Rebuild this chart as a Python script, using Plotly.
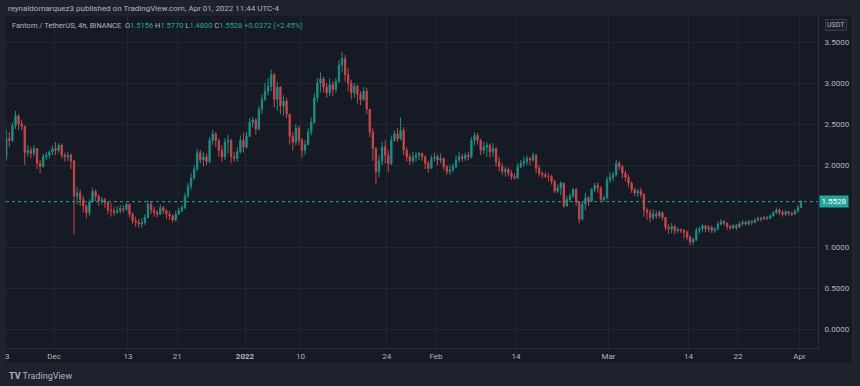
import plotly.graph_objects as go
import pandas as pd

# ---------------- data (12h aggregates) ----------------
start_time = "2021-11-23 06:00"
first_open = 2.10

close = [
    2.32, 2.30, 2.48, 2.60, 2.50, 2.47, 2.15, 2.18, 2.14, 2.20, 2.02, 1.98, 2.10, 2.12, 2.16, 2.20,   # Nov 23-30
    2.18, 2.24, 2.12, 2.10, 2.12, 2.05, 1.62, 1.66, 1.58, 1.50, 1.42, 1.55, 1.68, 1.62, 1.56, 1.58,   # Dec 1-8
    1.54, 1.45, 1.44, 1.42, 1.44, 1.47, 1.46, 1.52, 1.40, 1.32, 1.30, 1.28, 1.30, 1.36, 1.52, 1.45,   # Dec 9-16
    1.42, 1.40, 1.48, 1.44, 1.40, 1.38, 1.33, 1.40, 1.44, 1.48, 1.62, 1.74, 1.84, 1.95, 2.15, 2.06,   # Dec 17-24
    2.10, 2.04, 2.30, 2.38, 2.30, 2.18, 2.10, 2.28, 2.30, 2.10, 2.08, 2.16, 2.30, 2.22,               # Dec 25-31
    2.35, 2.52, 2.55, 2.44, 2.68, 2.80, 2.90, 2.96, 3.10, 2.80, 2.95, 2.72, 2.78, 2.62, 2.35, 2.28,   # Jan 1-8
    2.45, 2.30, 2.18, 2.25, 2.40, 2.52, 2.82, 3.00, 3.05, 2.95, 2.88, 2.98, 2.92, 3.02, 3.22, 3.30,   # Jan 9-16
    3.10, 3.00, 2.88, 2.96, 2.86, 2.80, 2.90, 2.68, 2.40, 2.20, 1.92, 2.05, 2.22, 2.12, 2.02, 2.30,   # Jan 17-24
    2.38, 2.32, 2.42, 2.18, 2.10, 2.05, 2.10, 2.12, 2.14, 2.10, 2.02, 1.96, 2.08, 2.10,               # Jan 25-31
    2.06, 2.08, 1.98, 1.92, 1.94, 1.98, 2.06, 2.10, 2.08, 2.12, 2.10, 2.30, 2.36, 2.30, 2.18, 2.22,   # Feb 1-8
    2.24, 2.16, 2.20, 2.04, 1.98, 1.92, 1.95, 1.90, 1.86, 1.84, 1.98, 2.02, 2.04, 2.08, 2.06, 2.12,   # Feb 9-16
    1.96, 1.90, 1.88, 1.86, 1.86, 1.80, 1.68, 1.72, 1.78, 1.50, 1.58, 1.62, 1.70, 1.55, 1.34, 1.52,   # Feb 17-24
    1.60, 1.56, 1.70, 1.75, 1.72, 1.58, 1.60, 1.82,                                                   # Feb 25-28
    1.85, 1.88, 2.02, 1.98, 1.90, 1.85, 1.78, 1.70, 1.66, 1.68, 1.64, 1.45, 1.42, 1.36, 1.40, 1.38,   # Mar 1-8
    1.42, 1.36, 1.24, 1.22, 1.25, 1.20, 1.21, 1.20, 1.18, 1.12, 1.06, 1.09, 1.20, 1.22, 1.26, 1.22,   # Mar 9-16
    1.24, 1.20, 1.22, 1.28, 1.31, 1.29, 1.25, 1.23, 1.26, 1.24, 1.28, 1.30, 1.28, 1.31, 1.30, 1.33,   # Mar 17-24
    1.35, 1.34, 1.36, 1.35, 1.38, 1.42, 1.45, 1.42, 1.40, 1.43, 1.41, 1.40, 1.44, 1.48,               # Mar 25-31
    1.5528,                                                                                           # Apr 1
]

high = [
    2.43, 2.40, 2.52, 2.66, 2.62, 2.55, 2.48, 2.24, 2.22, 2.24, 2.20, 2.06, 2.14, 2.16, 2.18, 2.24,
    2.28, 2.27, 2.26, 2.15, 2.16, 2.14, 2.06, 1.73, 1.70, 1.62, 1.52, 1.58, 1.72, 1.70, 1.64, 1.61,
    1.60, 1.56, 1.54, 1.49, 1.50, 1.51, 1.51, 1.54, 1.53, 1.42, 1.37, 1.34, 1.35, 1.40, 1.57, 1.55,
    1.49, 1.45, 1.52, 1.50, 1.46, 1.44, 1.40, 1.44, 1.48, 1.51, 1.66, 1.78, 1.90, 2.00, 2.20, 2.18,
    2.16, 2.14, 2.34, 2.43, 2.40, 2.32, 2.24, 2.33, 2.37, 2.32, 2.16, 2.22, 2.36, 2.39,
    2.40, 2.57, 2.59, 2.57, 2.72, 2.86, 3.00, 3.06, 3.16, 3.12, 3.01, 2.96, 2.85, 2.82, 2.62, 2.40,
    2.50, 2.48, 2.33, 2.30, 2.45, 2.58, 2.88, 3.06, 3.13, 3.08, 3.00, 3.06, 3.02, 3.06, 3.28, 3.38,
    3.34, 3.18, 3.04, 3.00, 2.98, 2.90, 2.95, 2.94, 2.68, 2.45, 2.22, 2.12, 2.28, 2.30, 2.18, 2.36,
    2.42, 2.45, 2.58, 2.46, 2.22, 2.14, 2.16, 2.16, 2.16, 2.15, 2.12, 2.05, 2.12, 2.15,
    2.13, 2.14, 2.09, 2.00, 2.00, 2.02, 2.12, 2.16, 2.14, 2.15, 2.16, 2.34, 2.40, 2.39, 2.32, 2.28,
    2.28, 2.26, 2.27, 2.22, 2.10, 2.02, 1.98, 1.97, 1.94, 1.90, 2.02, 2.06, 2.10, 2.12, 2.10, 2.15,
    2.13, 2.00, 1.92, 1.91, 1.90, 1.88, 1.82, 1.76, 1.80, 1.78, 1.62, 1.66, 1.72, 1.72, 1.56, 1.56,
    1.66, 1.62, 1.72, 1.78, 1.79, 1.74, 1.63, 1.86,
    1.91, 1.92, 2.06, 2.05, 2.00, 1.93, 1.88, 1.80, 1.72, 1.71, 1.72, 1.66, 1.48, 1.46, 1.46, 1.44,
    1.45, 1.43, 1.36, 1.28, 1.29, 1.27, 1.24, 1.23, 1.22, 1.20, 1.14, 1.12, 1.24, 1.25, 1.28, 1.27,
    1.27, 1.26, 1.24, 1.31, 1.34, 1.33, 1.30, 1.27, 1.28, 1.28, 1.31, 1.33, 1.32, 1.33, 1.33, 1.35,
    1.37, 1.37, 1.38, 1.38, 1.40, 1.44, 1.48, 1.47, 1.45, 1.45, 1.44, 1.43, 1.46, 1.51,
    1.5770,
]

low = [
    2.05, 2.22, 2.28, 2.44, 2.43, 2.42, 2.00, 2.10, 2.08, 2.10, 1.95, 1.90, 1.97, 2.06, 2.08, 2.12,
    2.12, 2.15, 2.08, 2.04, 2.05, 1.95, 1.15, 1.52, 1.50, 1.42, 1.35, 1.38, 1.54, 1.56, 1.50, 1.52,
    1.48, 1.40, 1.37, 1.38, 1.40, 1.41, 1.42, 1.44, 1.36, 1.28, 1.25, 1.24, 1.23, 1.27, 1.35, 1.40,
    1.37, 1.36, 1.39, 1.40, 1.34, 1.33, 1.30, 1.31, 1.39, 1.42, 1.46, 1.60, 1.70, 1.82, 1.92, 2.02,
    1.98, 2.00, 2.02, 2.24, 2.22, 2.10, 2.04, 2.06, 2.14, 2.02, 2.04, 2.04, 2.14, 2.15,
    2.20, 2.34, 2.46, 2.37, 2.42, 2.62, 2.78, 2.85, 2.90, 2.70, 2.66, 2.62, 2.60, 2.57, 2.25, 2.18,
    2.24, 2.24, 2.09, 2.12, 2.24, 2.36, 2.50, 2.77, 2.89, 2.88, 2.82, 2.84, 2.84, 2.88, 3.00, 3.13,
    3.02, 2.90, 2.80, 2.82, 2.75, 2.73, 2.78, 2.62, 2.34, 2.05, 1.77, 1.85, 2.00, 2.02, 1.91, 2.00,
    2.28, 2.28, 2.30, 2.12, 2.04, 2.00, 2.02, 2.04, 2.06, 2.05, 1.95, 1.91, 1.96, 2.04,
    2.00, 2.02, 1.94, 1.88, 1.88, 1.91, 1.96, 2.03, 2.04, 2.05, 2.06, 2.08, 2.24, 2.25, 2.12, 2.13,
    2.10, 2.09, 2.10, 1.98, 1.92, 1.88, 1.86, 1.86, 1.82, 1.82, 1.84, 1.96, 1.98, 2.00, 2.00, 2.04,
    1.90, 1.86, 1.84, 1.84, 1.80, 1.76, 1.66, 1.66, 1.63, 1.48, 1.50, 1.55, 1.60, 1.50, 1.29, 1.32,
    1.45, 1.50, 1.55, 1.67, 1.66, 1.55, 1.55, 1.58,
    1.78, 1.80, 1.86, 1.94, 1.84, 1.80, 1.73, 1.66, 1.62, 1.61, 1.60, 1.37, 1.33, 1.30, 1.33, 1.34,
    1.35, 1.32, 1.20, 1.16, 1.17, 1.15, 1.17, 1.17, 1.10, 1.08, 1.02, 1.03, 1.07, 1.16, 1.18, 1.18,
    1.18, 1.17, 1.17, 1.20, 1.26, 1.26, 1.21, 1.21, 1.22, 1.21, 1.24, 1.26, 1.26, 1.26, 1.27, 1.29,
    1.31, 1.31, 1.33, 1.33, 1.34, 1.37, 1.40, 1.39, 1.37, 1.38, 1.38, 1.38, 1.39, 1.42,
    1.4800,
]

last_price = 1.5528
header_ohlc = ["1.5156", "1.5770", "1.4800", "1.5528"]
header_change = "+0.0372 (+2.45%)"

price_ticks = [0.0, 0.5, 1.0, 2.0, 2.5, 3.0, 3.5]
time_tick_dates = ["2021-12-01", "2021-12-13", "2021-12-21", "2022-01-01", "2022-01-10", "2022-01-24",
                   "2022-02-01", "2022-02-14", "2022-03-01", "2022-03-14", "2022-03-22", "2022-04-01"]
time_tick_labels = ["Dec", "13", "21", "<b>2022</b>", "10", "24", "Feb", "14", "Mar", "14", "22", "Apr"]

# ---------------- build ----------------
times = pd.date_range(start_time, periods=len(close), freq="12h")
opens = [first_open] + close[:-1]
highs = [max(h, o, c) for h, o, c in zip(high, opens, close)]
lows = [min(l, o, c) for l, o, c in zip(low, opens, close)]

UP = "#26a69a"
DOWN = "#ef5350"
UP_C = "#1f8e84"
DOWN_C = "#c8474a"
OUTER = "#1e222d"
PANEL = "#161a25"
GRID = "#22262f"
TEXT = "#b2b5be"
FONT = "Roboto"

W, H = 860, 386
L, R, T, B = 6, 818, 16, 348


def px(x):
    return (x - L) / (R - L)


def py(y):
    return (B - y) / (B - T)


fig = go.Figure()
fig.add_trace(go.Candlestick(
    x=times, open=opens, high=highs, low=lows, close=close,
    increasing=dict(line=dict(color=UP_C, width=1), fillcolor=UP_C),
    decreasing=dict(line=dict(color=DOWN_C, width=1), fillcolor=DOWN_C),
    whiskerwidth=0, showlegend=False, hoverinfo="skip",
))

shapes = [
    dict(type="rect", xref="paper", yref="paper", x0=px(L), x1=px(853), y0=py(363), y1=py(T),
         fillcolor=PANEL, line=dict(width=0), layer="below"),
    dict(type="line", xref="paper", yref="y", x0=0, x1=1, y0=last_price, y1=last_price,
         line=dict(color=UP, width=1, dash="dot")),
    dict(type="line", xref="paper", yref="paper", x0=px(853), x1=px(853), y0=py(363), y1=py(T),
         line=dict(color="#2a2e39", width=1)),
]

teal = UP
hdr = (f'<span style="color:{TEXT}">Fantom / TetherUS, 4h, BINANCE</span>  '
       f'<span style="color:{TEXT}">O</span><span style="color:{teal}">{header_ohlc[0]}</span> '
       f'<span style="color:{TEXT}">H</span><span style="color:{teal}">{header_ohlc[1]}</span> '
       f'<span style="color:{TEXT}">L</span><span style="color:{teal}">{header_ohlc[2]}</span> '
       f'<span style="color:{TEXT}">C</span><span style="color:{teal}">{header_ohlc[3]}</span> '
       f'<span style="color:{teal}">{header_change}</span>')

annotations = [
    dict(xref="paper", yref="paper", x=px(6), y=py(9), xanchor="left", yanchor="middle", showarrow=False,
         text="reynaldomarquez3 published on TradingView.com, Apr 01, 2022 11:44 UTC-4",
         font=dict(family=FONT, size=8, color=TEXT)),
    dict(xref="paper", yref="paper", x=px(10), y=py(25), xanchor="left", yanchor="middle", showarrow=False,
         text=hdr, font=dict(family=FONT, size=7.5, color=TEXT)),
    dict(xref="paper", yref="paper", x=px(836), y=py(25), xanchor="center", yanchor="middle", showarrow=False,
         text="USDT", font=dict(family=FONT, size=7, color=TEXT), bgcolor="#1e222d",
         bordercolor="#363a45", borderwidth=1, borderpad=1),
    dict(xref="paper", yref="y", x=px(819), y=last_price, xanchor="left", yanchor="middle", showarrow=False,
         text=f"{last_price:.4f}", font=dict(family=FONT, size=8, color="#ffffff"), bgcolor=UP,
         borderpad=1, width=26),
    dict(xref="paper", yref="paper", x=px(7), y=py(357), xanchor="center", yanchor="middle", showarrow=False,
         text="3", font=dict(family=FONT, size=8, color=TEXT)),
    dict(xref="paper", yref="paper", x=px(7), y=py(376), xanchor="left", yanchor="middle", showarrow=False,
         text="<b>TV</b> TradingView", font=dict(family=FONT, size=9, color=TEXT)),
]

fig.update_layout(
    width=W, height=H,
    margin=dict(l=L, r=W - R, t=T, b=H - B),
    paper_bgcolor=OUTER, plot_bgcolor=PANEL,
    shapes=shapes, annotations=annotations,
    font=dict(family=FONT, size=8, color=TEXT),
    boxgap=0.4,
    xaxis=dict(
        type="date", range=["2021-11-23 05:00", "2022-04-04 00:00"],
        rangeslider=dict(visible=False),
        tickvals=time_tick_dates, ticktext=time_tick_labels,
        showgrid=True, gridcolor=GRID, gridwidth=1,
        showline=True, linecolor="#2a2e39", linewidth=1,
        ticks="", tickfont=dict(family=FONT, size=8, color=TEXT),
        zeroline=False, fixedrange=True,
    ),
    yaxis=dict(
        range=[(329 - 348) / 82, (329 - 16) / 82], side="right",
        tickvals=price_ticks, tickformat=".4f",
        showgrid=True, gridcolor=GRID, gridwidth=1,
        showline=True, linecolor="#2a2e39", linewidth=1,
        ticks="", ticklabelstandoff=4, tickfont=dict(family=FONT, size=8, color=TEXT),
        zeroline=False, fixedrange=True,
    ),
)

fig.write_html(
    "out.html",
    config={"displayModeBar": False, "staticPlot": True},
    post_script="document.body.style.margin='0';document.body.style.overflow='hidden';",
)
